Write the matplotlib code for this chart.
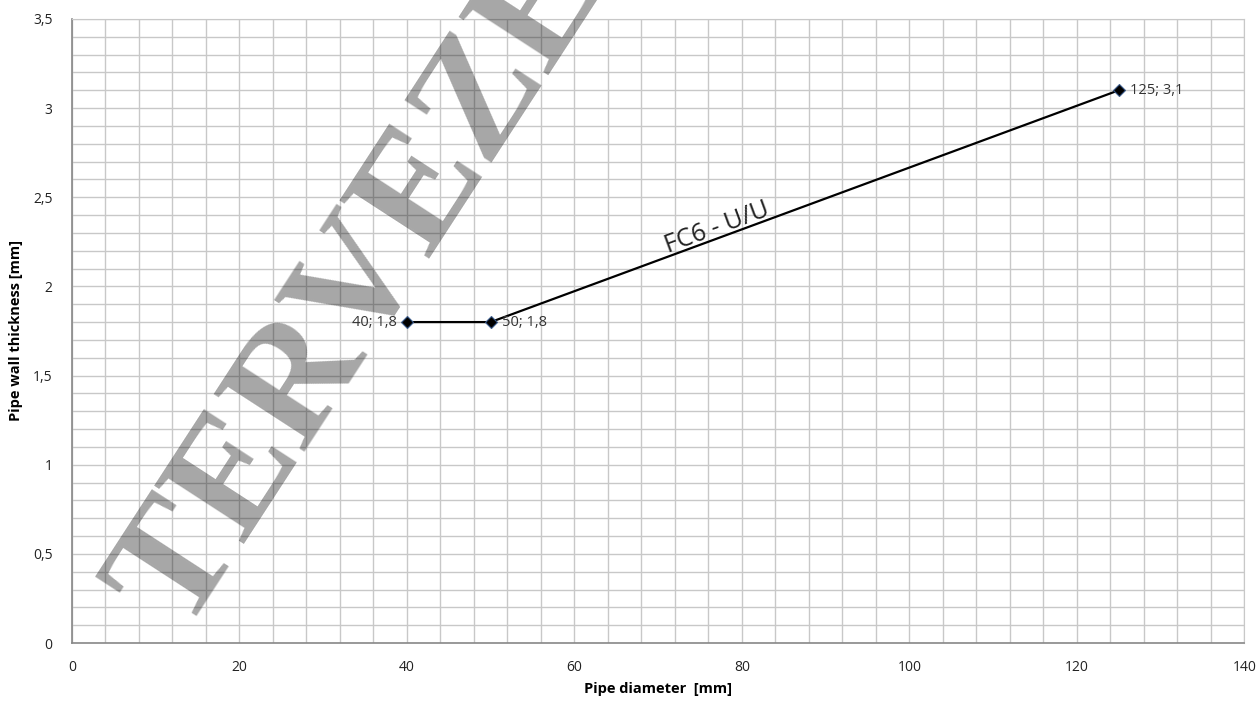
import matplotlib.pyplot as plt
from matplotlib.ticker import MultipleLocator, FuncFormatter

# data
diameter = [40, 50, 125]
thickness = [1.8, 1.8, 3.1]
point_labels = ["40; 1,8", "50; 1,8", "125; 3,1"]
series_name = "FC6 - U/U"
watermark = "TERVEZÉS"

plt.rcParams["font.family"] = ["Open Sans", "DejaVu Sans"]


def comma(v, pos):
    s = f"{v:g}"
    return s.replace(".", ",")


fig = plt.figure(figsize=(12.58, 7.02), dpi=100)
ax = fig.add_axes([0.0572, 0.084, 0.932, 0.889])

ax.set_xlim(0, 140)
ax.set_ylim(0, 3.5)
ax.xaxis.set_major_locator(MultipleLocator(20))
ax.xaxis.set_minor_locator(MultipleLocator(4))
ax.yaxis.set_major_locator(MultipleLocator(0.5))
ax.yaxis.set_minor_locator(MultipleLocator(0.1))
ax.xaxis.set_major_formatter(FuncFormatter(comma))
ax.yaxis.set_major_formatter(FuncFormatter(comma))
ax.grid(which="both", color="#c8c8c8", linewidth=1.0)
ax.set_axisbelow(True)
ax.tick_params(which="both", length=0, labelsize=10, colors="#222222")
ax.tick_params(axis="x", pad=12)
ax.tick_params(axis="y", pad=14)
for side in ["top", "right"]:
    ax.spines[side].set_color("#c8c8c8")
for side in ["left", "bottom"]:
    ax.spines[side].set_color("#888888")
    ax.spines[side].set_linewidth(1.2)

ax.plot(diameter, thickness, color="black", linewidth=1.6, marker="D",
        markersize=6.5, markerfacecolor="black", markeredgecolor="#3a5a8a",
        markeredgewidth=0.8, zorder=3)

for x, y, lab in zip(diameter, thickness, point_labels):
    if x == diameter[0]:
        ax.annotate(lab, (x, y), xytext=(-7, 0), textcoords="offset points",
                    ha="right", va="center", fontsize=10.5, color="#333333")
    else:
        ax.annotate(lab, (x, y), xytext=(8, 0), textcoords="offset points",
                    ha="left", va="center", fontsize=10.5, color="#333333")

ax.text(77, 2.33, series_name, rotation=20.3, rotation_mode="anchor",
        ha="center", va="center", fontsize=18, color="#222222")

ax.set_xlabel("Pipe diameter  [mm]", fontsize=10.5, fontweight="bold", labelpad=5)
ax.set_ylabel("Pipe wall thickness [mm]", fontsize=10.5, fontweight="bold", labelpad=7)

# diagonal watermark over the plot
fig.text(0.145, 0.095, watermark, rotation=57, rotation_mode="anchor",
         ha="left", va="baseline", fontsize=118, fontweight="bold",
         family="Liberation Serif", color="black", alpha=0.35, zorder=5)

fig.savefig("out.png", dpi=100)
